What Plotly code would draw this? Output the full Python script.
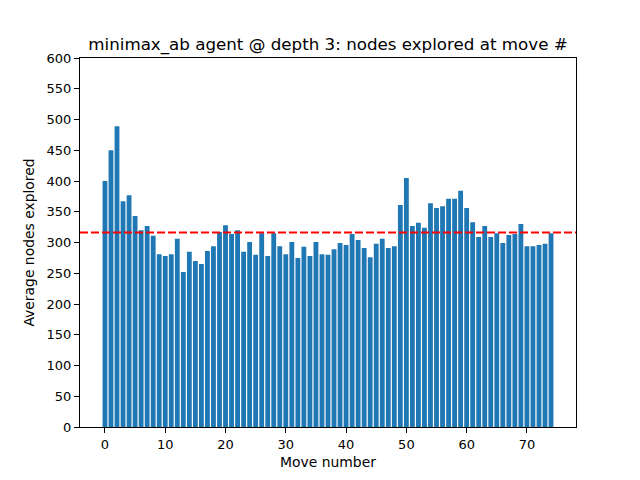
import numpy as np
import plotly.graph_objects as go

moves = list(range(75))
avg_nodes = [
    400, 450, 489, 367, 377, 343, 320, 327, 311, 281,
    278, 281, 306, 252, 285, 270, 265, 286, 294, 317,
    328, 314, 320, 285, 301, 280, 315, 278, 315, 294,
    281, 301, 275, 293, 278, 301, 281, 280, 289, 299,
    296, 314, 304, 291, 276, 298, 306, 291, 294, 361,
    405, 327, 332, 324, 364, 356, 359, 371, 371, 384,
    356, 333, 309, 327, 309, 315, 299, 312, 314, 330,
    294, 294, 296, 298, 315,
]
mean_nodes = float(np.mean(avg_nodes))

fig = go.Figure()
fig.add_trace(go.Bar(x=moves, y=avg_nodes, marker_color="#1f77b4", marker_line_width=0))

# horizontal mean line across the whole axes
fig.add_shape(type="line", xref="paper", x0=0, x1=1, yref="y", y0=mean_nodes, y1=mean_nodes,
              line=dict(color="red", width=2, dash="8px,3px"))

axis_style = dict(showline=True, linecolor="black", linewidth=1, mirror=True,
                  ticks="outside", ticklen=5, tickcolor="black", showgrid=False,
                  zeroline=False, tickfont=dict(size=13, color="black"))

# page body adds an 8px offset, so margins are shifted to compensate
fig.update_layout(
    width=640, height=480,
    margin=dict(l=72, r=72, t=50, b=61),
    plot_bgcolor="white", paper_bgcolor="white",
    font=dict(family="DejaVu Sans", color="black"),
    title=dict(text="minimax_ab agent @ depth 3: nodes explored at move #",
               x=0.5, xanchor="center", y=0.925, yanchor="middle", xref="paper",
               font=dict(size=16.7)),
    bargap=0.2,
    showlegend=False,
)
fig.update_xaxes(range=[-4.14, 78.14], tickvals=list(range(0, 71, 10)),
                 title=dict(text="Move number", font=dict(size=13.9), standoff=6), **axis_style)
fig.update_yaxes(range=[0, 600], tickvals=list(range(0, 601, 50)),
                 title=dict(text="Average nodes explored", font=dict(size=13.9), standoff=8), **axis_style)

fig.write_html("out.html")
